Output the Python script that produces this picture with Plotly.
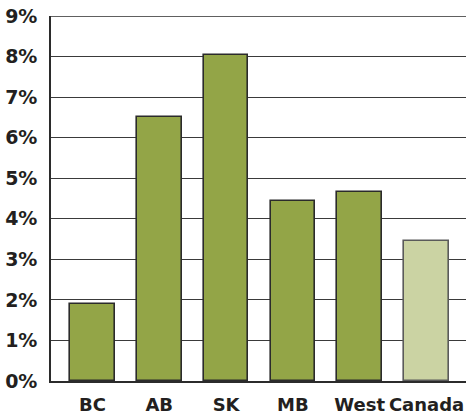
import plotly.graph_objects as go

categories = ["BC", "AB", "SK", "MB", "West", "Canada"]
values = [1.9, 6.5, 8.05, 4.45, 4.65, 3.45]
bar_colors = ["#93a547", "#93a547", "#93a547", "#93a547", "#93a547", "#cbd3a3"]
line_colors = ["#2b2b2b", "#2b2b2b", "#2b2b2b", "#2b2b2b", "#2b2b2b", "#5a5a5a"]
tick_vals = list(range(0, 10))
tick_text = [f"{v}%" for v in tick_vals]

fig = go.Figure(go.Bar(
    x=categories, y=values,
    marker=dict(color=bar_colors, line=dict(color=line_colors, width=1.6)),
    width=0.67,
))

font_family = "DejaVu Sans, sans-serif"
fig.update_layout(
    width=466, height=414,
    margin=dict(l=51, r=0, t=16, b=33),
    paper_bgcolor="white", plot_bgcolor="white",
    showlegend=False,
    bargap=0,
)
fig.update_xaxes(
    range=[-0.62, 5.59], automargin=False,
    showline=True, linecolor="#2b2b2b", linewidth=1.6,
    showgrid=False, ticks="outside", ticklen=7, tickcolor="rgba(0,0,0,0)",
    tickfont=dict(family=font_family, size=18, color="#231f20", weight="bold"),
)
fig.update_yaxes(
    range=[0, 9], automargin=False,
    tickvals=tick_vals, ticktext=tick_text,
    showline=True, linecolor="#2b2b2b", linewidth=1.6,
    showgrid=True, gridcolor="#3a3a3a", gridwidth=1.4,
    ticks="outside", ticklen=8, tickcolor="rgba(0,0,0,0)",
    tickfont=dict(family=font_family, size=19, color="#231f20", weight="bold"),
    zeroline=False,
)
fig.add_shape(type="line", xref="paper", yref="y", x0=0, x1=1, y0=9, y1=9,
              line=dict(color="#2b2b2b", width=1.6))

fig.write_html("out.html")
